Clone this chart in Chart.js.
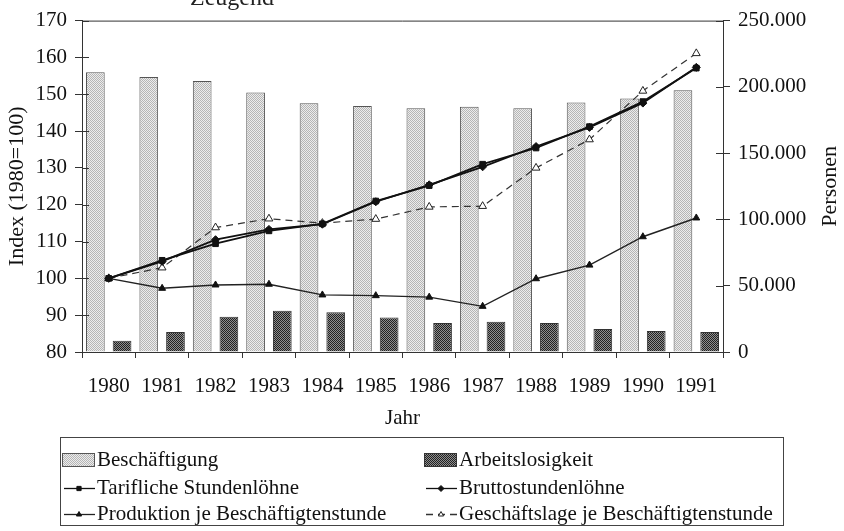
<!DOCTYPE html>
<html>
<head>
<meta charset="utf-8">
<script src="https://cdn.jsdelivr.net/npm/chart.js@4"></script>
<style>
  html, body { margin: 0; padding: 0; background: #fff; }
  #wrap { position: relative; width: 844px; height: 531px; overflow: hidden; }
  #cut-title {
    position: absolute; left: 190px; top: -15px;
    font: 24px "Liberation Serif", serif; line-height: 1; color: #222;
  }
</style>
</head>
<body>
<div id="wrap">
  <div id="cut-title">Zeugend</div>
  <canvas id="chart" width="844" height="531"></canvas>
</div>
<script>
// Jahre und Reihen
const years = ['1980', '1981', '1982', '1983', '1984', '1985', '1986', '1987', '1988', '1989', '1990', '1991'];

// Personen (rechte Achse)
const beschaeftigung   = [211000, 207400, 204400, 195700, 187700, 185500, 183800, 185000, 183800, 188200, 191200, 197400];
const arbeitslosigkeit = [8400, 15100, 26600, 31200, 30000, 26000, 21800, 22800, 21800, 17300, 15800, 15100];

// Index 1980 = 100 (linke Achse)
const tarifLoehne  = [100, 104.9, 109.4, 112.9, 114.8, 121.0, 125.2, 131.0, 135.4, 141.2, 148.0, 157.1];
const bruttoLoehne = [100, 104.6, 110.5, 113.3, 114.7, 120.8, 125.4, 130.3, 135.8, 141.0, 147.6, 157.3];
const produktion   = [100, 97.3, 98.2, 98.4, 95.5, 95.3, 94.9, 92.4, 99.9, 103.6, 111.3, 116.4];
const geschaeft    = [100, 102.9, 113.8, 116.2, 115.0, 116.1, 119.4, 119.6, 130.0, 137.7, 150.9, 161.1];

const leftTicks  = { min: 80, max: 170, step: 10 };
const rightTicks = { min: 0, max: 250000, step: 50000 };

const SERIF = '"Liberation Serif", "Times New Roman", serif';
const INK = '#111';

// Raster-Füllungen für die Balken
function stipple(a, b, size) {
  const c = document.createElement('canvas');
  c.width = size; c.height = size;
  const g = c.getContext('2d');
  g.fillStyle = a; g.fillRect(0, 0, size, size);
  g.fillStyle = b;
  for (let y = 0; y < size; y++)
    for (let x = 0; x < size; x++)
      if ((x + y) % 2 === 0) g.fillRect(x, y, 1, 1);
  return g.createPattern(c, 'repeat');
}
const lightFill = stipple('#ececec', '#b5b5b5', 4);
const darkFill  = stipple('#8e8e8e', '#222222', 4);

const dotsGerman = v => String(v).replace(/\B(?=(\d{3})+(?!\d))/g, '.');

// Rahmen oben, Teilstriche nach innen, rechter Achsentitel, Legende
const frame = {
  id: 'frame',
  afterDraw(chart) {
    const { ctx, chartArea: a, scales } = chart;
    ctx.save();
    ctx.strokeStyle = '#333';
    ctx.lineWidth = 1;
    ctx.beginPath();
    ctx.moveTo(a.left, a.top + 0.5);
    ctx.lineTo(a.right, a.top + 0.5);
    scales.y.ticks.forEach((t, i) => {
      const py = Math.round(scales.y.getPixelForTick(i)) + 0.5;
      ctx.moveTo(a.left, py); ctx.lineTo(a.left + 7, py);
    });
    scales.y1.ticks.forEach((t, i) => {
      const py = Math.round(scales.y1.getPixelForTick(i)) + 0.5;
      ctx.moveTo(a.right - 7, py); ctx.lineTo(a.right, py);
    });
    ctx.stroke();

    ctx.fillStyle = INK;
    ctx.font = '22px ' + SERIF;
    ctx.textAlign = 'center';
    ctx.textBaseline = 'middle';
    ctx.translate(830, (a.top + a.bottom) / 2);
    ctx.rotate(-Math.PI / 2);
    ctx.fillText('Personen', 0, 0);
    ctx.restore();

    drawLegend(chart);
  }
};

function drawLegend(chart) {
  const { ctx } = chart;
  const box = { x: 60.5, y: 437.5, w: 723, h: 88 };
  const cols = [62, 424];
  const rows = [460, 488, 514];
  ctx.save();
  ctx.strokeStyle = '#444';
  ctx.lineWidth = 1;
  ctx.strokeRect(box.x, box.y, box.w, box.h);

  chart.data.datasets.forEach((ds, i) => {
    const x = cols[i % 2];
    const y = rows[Math.floor(i / 2)];
    if (ds.type === 'bar') {
      ctx.fillStyle = ds.backgroundColor;
      ctx.fillRect(x, y - 7, 33, 14);
      ctx.strokeStyle = ds.borderColor;
      ctx.strokeRect(x + 0.5, y - 6.5, 32, 13);
    } else {
      ctx.strokeStyle = ds.borderColor;
      ctx.lineWidth = 1.3;
      ctx.setLineDash(ds.borderDash || []);
      ctx.beginPath();
      ctx.moveTo(x + 2, y + 0.5); ctx.lineTo(x + 33, y + 0.5);
      ctx.stroke();
      ctx.setLineDash([]);
      ctx.fillStyle = ds.pointBackgroundColor;
      ctx.strokeStyle = ds.pointBorderColor;
      ctx.lineWidth = 1;
      Chart.helpers.drawPoint(ctx, { pointStyle: ds.pointStyle, radius: 3, rotation: 0, borderWidth: 1 }, x + 17, y + 0.5);
    }
    ctx.fillStyle = INK;
    ctx.font = '21px ' + SERIF;
    ctx.textAlign = 'left';
    ctx.textBaseline = 'middle';
    ctx.fillText(ds.label, x + 35, y);
  });
  ctx.restore();
}

function lineSeries(label, data, opts) {
  return Object.assign({
    type: 'line',
    label,
    data,
    yAxisID: 'y',
    order: 1,
    borderColor: '#111',
    borderWidth: 1.8,
    tension: 0,
    pointRadius: 3.5,
    pointBorderWidth: 1,
    pointBackgroundColor: '#111',
    pointBorderColor: '#111',
  }, opts);
}

new Chart(document.getElementById('chart'), {
  type: 'bar',
  data: {
    labels: years,
    datasets: [
      {
        type: 'bar', label: 'Beschäftigung', data: beschaeftigung, yAxisID: 'y1', order: 2,
        backgroundColor: lightFill, borderColor: '#555', borderWidth: 1,
        categoryPercentage: 1.0, barPercentage: 0.7,
      },
      {
        type: 'bar', label: 'Arbeitslosigkeit', data: arbeitslosigkeit, yAxisID: 'y1', order: 2,
        backgroundColor: darkFill, borderColor: '#333', borderWidth: 1,
        categoryPercentage: 1.0, barPercentage: 0.7,
      },
      lineSeries('Tarifliche Stundenlöhne', tarifLoehne, { pointStyle: 'rect', pointRadius: 4 }),
      lineSeries('Bruttostundenlöhne', bruttoLoehne, { pointStyle: 'rectRot', pointRadius: 4 }),
      lineSeries('Produktion je Beschäftigtenstunde', produktion, {
        pointStyle: 'triangle', pointRadius: 4, borderWidth: 1.4, borderColor: '#222',
      }),
      lineSeries('Geschäftslage je Beschäftigtenstunde', geschaeft, {
        pointStyle: 'triangle', pointRadius: 4.5, borderWidth: 1.2, borderColor: '#333',
        borderDash: [7, 5], pointBackgroundColor: '#ffffff', pointBorderColor: '#222',
      }),
    ],
  },
  options: {
    responsive: false,
    animation: false,
    layout: { padding: { top: 16, bottom: 100, left: 0, right: 0 } },
    plugins: { legend: { display: false }, tooltip: { enabled: false } },
    scales: {
      x: {
        offset: true,
        grid: { drawOnChartArea: false, offset: true, tickLength: 6, color: '#333' },
        border: { display: true, color: '#333' },
        ticks: { color: INK, font: { family: SERIF, size: 21 }, padding: 16, maxRotation: 0, autoSkip: false },
        title: { display: true, text: 'Jahr', color: INK, font: { family: SERIF, size: 21 }, padding: { top: 0, bottom: 0 } },
        afterFit(scale) { scale.height = 79; },
      },
      y: {
        position: 'left',
        min: leftTicks.min, max: leftTicks.max,
        grid: { drawOnChartArea: false, tickLength: 7, color: '#333' },
        border: { display: true, color: '#333' },
        ticks: { stepSize: leftTicks.step, color: INK, font: { family: SERIF, size: 21 }, padding: 8 },
        title: { display: true, text: 'Index (1980=100)', color: INK, font: { family: SERIF, size: 22 }, padding: { top: 4, bottom: 0 } },
        afterFit(scale) { scale.width = 82; },
      },
      y1: {
        position: 'right',
        min: rightTicks.min, max: rightTicks.max,
        grid: { drawOnChartArea: false, tickLength: 7, color: '#333' },
        border: { display: true, color: '#333' },
        ticks: { stepSize: rightTicks.step, color: INK, font: { family: SERIF, size: 21 }, padding: 8, callback: v => dotsGerman(v) },
        afterFit(scale) { scale.width = 121; },
      },
    },
  },
  plugins: [frame],
});
</script>
</body>
</html>
